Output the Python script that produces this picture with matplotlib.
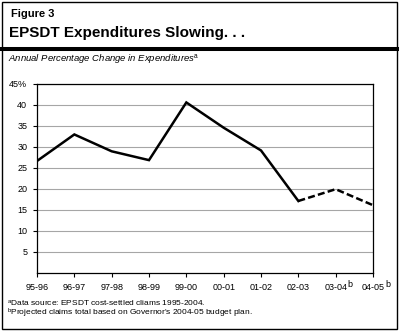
import matplotlib
matplotlib.use("Agg")
import matplotlib.pyplot as plt
from matplotlib.patches import Rectangle
from matplotlib.lines import Line2D

plt.rcParams['font.family'] = ['Liberation Sans', 'DejaVu Sans']
plt.rcParams['mathtext.fontset'] = 'custom'
plt.rcParams['mathtext.rm'] = 'Liberation Sans'
plt.rcParams['mathtext.it'] = 'Liberation Sans:italic'

# fiscal years and annual % change in EPSDT expenditures
years = ['95-96', '96-97', '97-98', '98-99', '99-00', '00-01', '01-02', '02-03',
         '03-04', '04-05']
projected_years = ['03-04', '04-05']   # footnote b
actual = [26.6, 32.9, 28.9, 26.8, 40.5, 34.5, 29.1, 17.1]
projected = [17.1, 19.9, 16.1]   # 02-03 onward, drawn dashed
yticks = [5, 10, 15, 20, 25, 30, 35, 40, 45]
ytick_labels = ['5', '10', '15', '20', '25', '30', '35', '40', '45%']

W, H = 401, 332
fig = plt.figure(figsize=(W / 100, H / 100), dpi=100)

def px(x, y):
    return x / W, 1 - y / H

# outer frame and heavy rule under the title
fig.patches.append(Rectangle(px(2, 329), 395 / W, 327 / H, transform=fig.transFigure,
                             fill=False, edgecolor='black', linewidth=1.0))
fig.lines.append(Line2D([2 / W, 397 / W], [1 - 49 / H] * 2, transform=fig.transFigure,
                        color='black', linewidth=2.9))

fig.text(*px(11, 14), 'Figure 3', fontsize=8, fontweight='bold', va='center')
fig.text(*px(9, 32.5), 'EPSDT Expenditures Slowing. . .', fontsize=11,
         fontweight='bold', va='center')
fig.text(*px(8, 61), 'Annual Percentage Change in Expenditures$^{\\mathrm{a}}$',
         fontsize=6.8, style='italic', va='baseline')

fig.text(*px(7, 306), '$^{\\mathrm{a}}$Data source: EPSDT cost-settled cliams 1995-2004.',
         fontsize=6, va='baseline')
fig.text(*px(7, 315.5), "$^{\\mathrm{b}}$Projected claims total based on Governor's 2004-05 budget plan.",
         fontsize=6, va='baseline')

ax = fig.add_axes([37 / W, 1 - 273 / H, 336 / W, (273 - 83.5) / H])
xs = list(range(len(years)))
ax.plot(xs[:len(actual)], actual, color='black', linewidth=1.8, solid_joinstyle='miter')
ax.plot(xs[len(actual) - 1:], projected, color='black', linewidth=1.8,
        linestyle=(0, (2.8, 1.3)))

ax.set_xlim(0, len(years) - 1)
ax.set_ylim(0, 45)
ax.set_xticks(xs)
ax.set_xticklabels(years, fontsize=6.5)
ax.set_yticks(yticks)
ax.set_yticklabels(ytick_labels, fontsize=6.5)
ax.tick_params(length=3, width=0.8)
ax.tick_params(axis='x', pad=4)
ax.tick_params(axis='y', pad=4)
ax.grid(axis='y', color='#a6a6a6', linewidth=0.8)
ax.set_axisbelow(True)
for s in ax.spines.values():
    s.set_linewidth(0.9)

# raised "b" right after the projected year labels
fig.canvas.draw()
renderer = fig.canvas.get_renderer()
for lbl in ax.get_xticklabels():
    if lbl.get_text() in projected_years:
        bb = lbl.get_window_extent(renderer)
        fig.text(bb.x1 / W + 0.5 / W, (bb.y1 + 3) / H, 'b', fontsize=6.5,
                 ha='left', va='top')

fig.savefig('out.png', dpi=100)
